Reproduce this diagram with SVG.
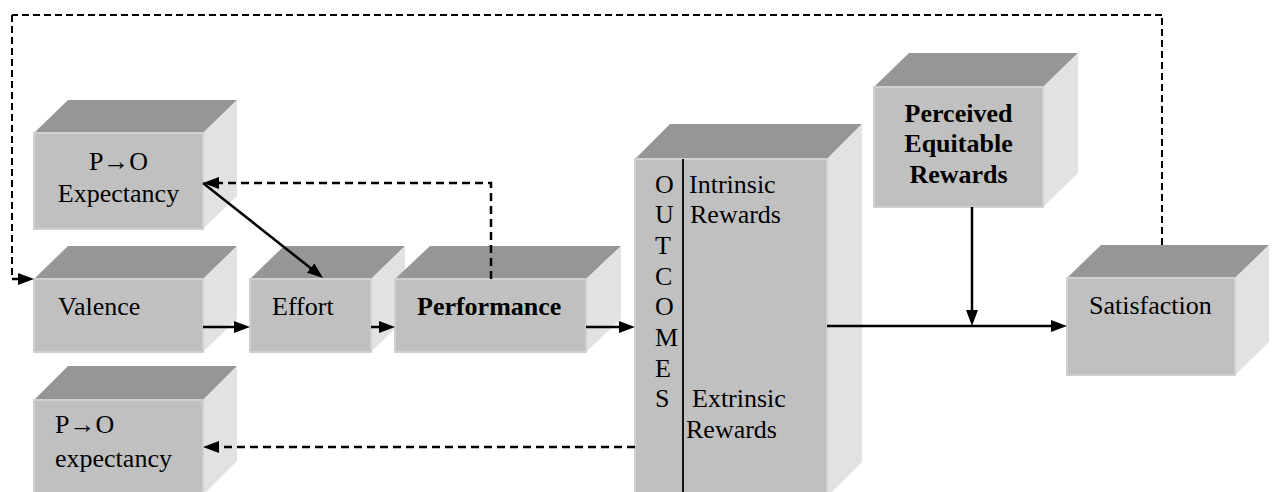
<svg xmlns="http://www.w3.org/2000/svg" width="1275" height="492" viewBox="0 0 1275 492" font-family="'Liberation Serif', 'DejaVu Serif', Times, serif">
<style>
.front{fill:#c0c0c0;stroke:#d0d0d0;stroke-width:2}
.top{fill:#969696}
.side{fill:#e2e2e2}
text{font-family:'Liberation Serif','DejaVu Serif',Times,serif;font-size:26px;fill:#000}
.b{font-weight:bold}
.m{text-anchor:middle}
.ln{fill:none;stroke:#000;stroke-width:2.5}
.d{stroke-dasharray:8 5}
.df{stroke-dasharray:7 4;stroke-width:2}
</style>
<defs>
<marker id="ah" viewBox="0 0 16 12" refX="8" refY="6" markerWidth="16" markerHeight="12" markerUnits="userSpaceOnUse" orient="auto">
<path d="M0,0 L16,6 L0,12 z" fill="#000"/>
</marker>
</defs>
<rect width="1275" height="492" fill="#fff"/>

<g id="po-expectancy-top">
<polygon class="top" points="34,133 203,133 237,100 68,100"/>
<polygon class="side" points="203,133 237,100 237,196 203,229"/>
<rect class="front" x="34" y="133" width="169" height="96"/>
<text class="m" x="118.5" y="170" font-family="Liberation Serif, serif">P→O</text>
<text class="m" x="118.5" y="202" font-family="Liberation Serif, serif">Expectancy</text>
</g>

<g id="valence">
<polygon class="top" points="34,279 203,279 237,246 68,246"/>
<polygon class="side" points="203,279 237,246 237,319 203,352"/>
<rect class="front" x="34" y="279" width="169" height="73"/>
<text x="58" y="315">Valence</text>
</g>

<g id="effort">
<polygon class="top" points="250,279 371,279 405,246 284,246"/>
<polygon class="side" points="371,279 405,246 405,319 371,352"/>
<rect class="front" x="250" y="279" width="121" height="73"/>
<text x="272" y="315">Effort</text>
</g>

<g id="performance">
<polygon class="top" points="395,279 586,279 621,246 430,246"/>
<polygon class="side" points="586,279 621,246 621,319 586,352"/>
<rect class="front" x="395" y="279" width="191" height="73"/>
<text class="b" x="417" y="315">Performance</text>
</g>

<g id="outcomes">
<polygon class="top" points="635,159 827,159 862,124 670,124"/>
<polygon class="side" points="827,159 862,124 862,462 827,497"/>
<rect class="front" x="635" y="159" width="192" height="338"/>
<line x1="683" y1="159" x2="683" y2="497" stroke="#000" stroke-width="1.8"/>
<text x="655" y="193">O</text>
<text x="655" y="223">U</text>
<text x="655" y="254">T</text>
<text x="655" y="285">C</text>
<text x="655" y="315">O</text>
<text x="655" y="346">M</text>
<text x="655" y="377">E</text>
<text x="655" y="407">S</text>
<text x="689" y="193">Intrinsic</text>
<text x="690" y="223">Rewards</text>
<text x="692" y="407">Extrinsic</text>
<text x="686" y="438">Rewards</text>
</g>

<g id="perceived-equitable-rewards">
<polygon class="top" points="874,87 1043,87 1078,53 909,53"/>
<polygon class="side" points="1043,87 1078,53 1078,173 1043,207"/>
<rect class="front" x="874" y="87" width="169" height="120"/>
<text class="b m" x="958.5" y="122">Perceived</text>
<text class="b m" x="958.5" y="152">Equitable</text>
<text class="b m" x="958.5" y="183">Rewards</text>
</g>

<g id="satisfaction">
<polygon class="top" points="1067,278 1235,278 1269,245 1101,245"/>
<polygon class="side" points="1235,278 1269,245 1269,342 1235,375"/>
<rect class="front" x="1067" y="278" width="168" height="97"/>
<text x="1089" y="314">Satisfaction</text>
</g>

<g id="po-expectancy-bottom">
<polygon class="top" points="34,400 203,400 237,366 68,366"/>
<polygon class="side" points="203,400 237,366 237,461 203,495"/>
<rect class="front" x="34" y="400" width="169" height="95"/>
<text x="55" y="433">P→O</text>
<text x="55" y="467">expectancy</text>
</g>

<g id="connectors">
<line class="ln" x1="203" y1="327" x2="242" y2="327" marker-end="url(#ah)"/>
<line class="ln" x1="371" y1="327" x2="387" y2="327" marker-end="url(#ah)"/>
<line class="ln" x1="586" y1="327" x2="627" y2="327" marker-end="url(#ah)"/>
<line class="ln" x1="827" y1="326" x2="1059" y2="326" marker-end="url(#ah)"/>
<line class="ln" x1="972" y1="207" x2="972" y2="318" marker-end="url(#ah)"/>
<line class="ln" x1="203" y1="183" x2="316.8" y2="273" marker-end="url(#ah)"/>
<path class="ln d" d="M491,279 V183 H211" marker-end="url(#ah)"/>
<path class="ln d" d="M635,447 H211" marker-end="url(#ah)"/>
<path class="ln df" d="M1162,245 V15"/>
<path class="ln df" d="M1162,15 H12"/>
<path class="ln df" d="M12,15 V279"/>
<path class="ln" d="M12,279 H26" marker-end="url(#ah)"/>
</g>
</svg>
